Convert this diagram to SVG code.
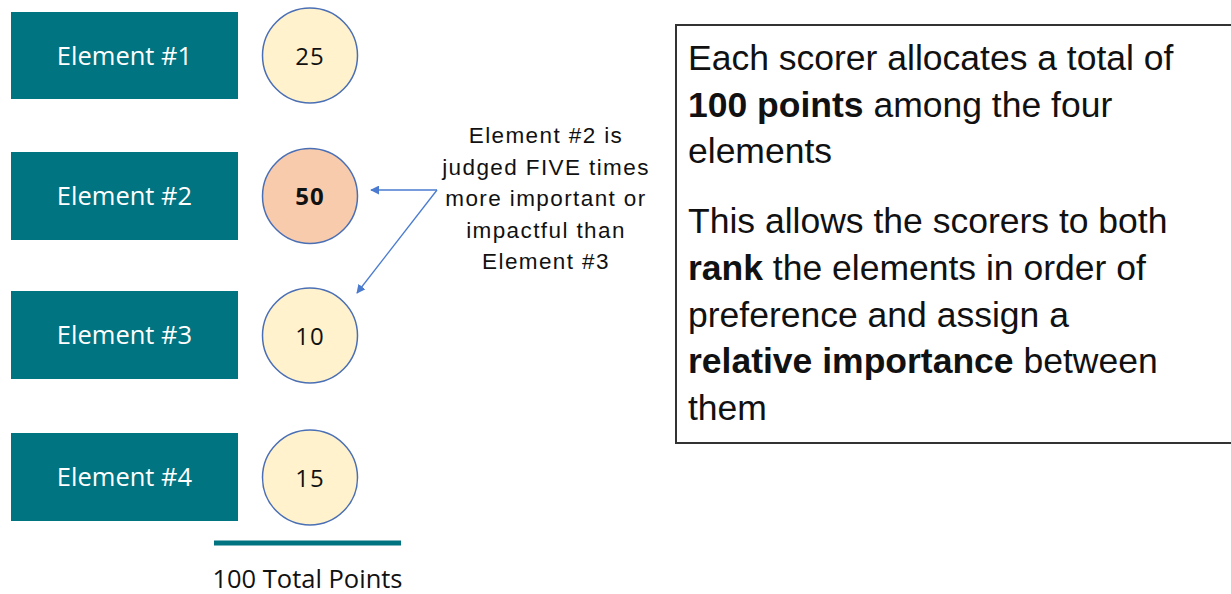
<svg xmlns="http://www.w3.org/2000/svg" width="1231" height="594" viewBox="0 0 1231 594">
  <defs>
    <style>
      .elem rect { fill: #007480; }
      .elem text { fill: #ffffff; font-family: "Open Sans", "Liberation Sans", sans-serif; font-size: 25.5px; text-anchor: middle; }
      .score circle { fill: #FFF2CC; stroke: #4A6FB5; stroke-width: 1.5; }
      .score text { fill: #111111; font-family: "Open Sans", "Liberation Sans", sans-serif; font-size: 24px; text-anchor: middle; letter-spacing: 1px; }
      .note { fill: #111111; font-family: "Liberation Sans", Arial, sans-serif; font-size: 22.5px; text-anchor: middle; letter-spacing: 1.4px; }
      .body { fill: #111111; font-family: "Liberation Sans", Arial, sans-serif; font-size: 35.5px; }
      .body .b { font-weight: bold; }
      .conn { stroke: #4A7BD0; stroke-width: 1.3; fill: none; }
    </style>
    <marker id="arrow" viewBox="0 0 10 10" refX="9" refY="5" markerWidth="9" markerHeight="9" markerUnits="userSpaceOnUse" orient="auto">
      <path d="M0,0 L10,5 L0,10 z" fill="#4A7BD0"/>
    </marker>
  </defs>

  <rect width="1231" height="594" fill="#ffffff"/>

  <!-- element boxes -->
  <g id="element-1" class="elem">
    <rect x="11" y="12" width="227" height="87"/>
    <text x="124.5" y="65">Element #1</text>
  </g>
  <g id="element-2" class="elem">
    <rect x="11" y="152" width="227" height="88"/>
    <text x="124.5" y="205">Element #2</text>
  </g>
  <g id="element-3" class="elem">
    <rect x="11" y="291" width="227" height="88"/>
    <text x="124.5" y="344">Element #3</text>
  </g>
  <g id="element-4" class="elem">
    <rect x="11" y="433" width="227" height="88"/>
    <text x="124.5" y="486">Element #4</text>
  </g>

  <!-- point scores -->
  <g id="score-1" class="score">
    <circle cx="310" cy="55.5" r="47.5"/>
    <text x="310" y="65">25</text>
  </g>
  <g id="score-2" class="score">
    <circle cx="310" cy="196" r="47.5" style="fill:#F8CBAD"/>
    <text x="310" y="205" style="font-weight:bold">50</text>
  </g>
  <g id="score-3" class="score">
    <circle cx="310" cy="335.5" r="47.5"/>
    <text x="310" y="345">10</text>
  </g>
  <g id="score-4" class="score">
    <circle cx="310" cy="477.5" r="47.5"/>
    <text x="310" y="487">15</text>
  </g>

  <!-- total bar -->
  <g id="total">
    <line x1="214" y1="543" x2="401" y2="543" stroke="#007480" stroke-width="5"/>
    <text x="307.5" y="588" style="fill:#111111; font-family:'Open Sans','Liberation Sans',sans-serif; font-size:25.5px; text-anchor:middle">100 Total Points</text>
  </g>

  <!-- annotation -->
  <g id="annotation">
    <text class="note" x="546" y="143">Element #2 is</text>
    <text class="note" x="546" y="175">judged FIVE times</text>
    <text class="note" x="546" y="206">more important or</text>
    <text class="note" x="546" y="238">impactful than</text>
    <text class="note" x="546" y="269">Element #3</text>
  </g>

  <!-- connectors -->
  <g id="connectors">
    <line class="conn" x1="437" y1="190" x2="371" y2="190" marker-end="url(#arrow)"/>
    <line class="conn" x1="437" y1="190" x2="357" y2="293" marker-end="url(#arrow)"/>
  </g>

  <!-- explanation box -->
  <g id="explanation">
    <rect x="676" y="25" width="570" height="418" fill="#ffffff" stroke="#333333" stroke-width="2"/>
    <text class="body" x="688" y="70">Each scorer allocates a total of</text>
    <text class="body" x="688" y="117"><tspan class="b">100 points</tspan> among the four</text>
    <text class="body" x="688" y="163">elements</text>
    <text class="body" x="688" y="233">This allows the scorers to both</text>
    <text class="body" x="688" y="280"><tspan class="b">rank</tspan> the elements in order of</text>
    <text class="body" x="688" y="327">preference and assign a</text>
    <text class="body" x="688" y="373"><tspan class="b">relative importance</tspan> between</text>
    <text class="body" x="688" y="420">them</text>
  </g>
</svg>
